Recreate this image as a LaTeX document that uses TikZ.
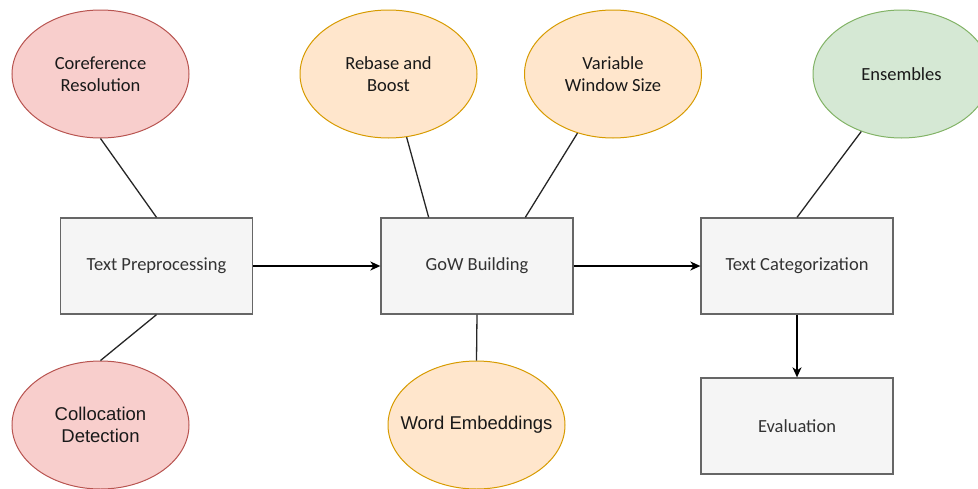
\documentclass[tikz,border=0pt]{standalone}
\usepackage{fontspec}
\setmainfont{Carlito}
\newfontfamily\helv{Liberation Sans}
\usetikzlibrary{shapes.geometric,arrows.meta,calc}
\definecolor{redfill}{HTML}{F8CECC}
\definecolor{redline}{HTML}{B85450}
\definecolor{orfill}{HTML}{FFE6CC}
\definecolor{orline}{HTML}{D79B00}
\definecolor{grfill}{HTML}{D5E8D4}
\definecolor{grline}{HTML}{82B366}
\definecolor{boxfill}{HTML}{F5F5F5}
\definecolor{boxline}{HTML}{666666}
\definecolor{boxtext}{HTML}{333333}
\begin{document}
\begin{tikzpicture}[x=1pt,y=-1pt,
  oval/.style={ellipse, minimum width=177pt, minimum height=128pt, inner sep=0pt, line width=1pt, align=center, font=\fontsize{18.5}{22}\selectfont, text=black!90},
  redoval/.style={oval, fill=redfill, draw=redline},
  oroval/.style={oval, fill=orfill, draw=orline},
  groval/.style={oval, fill=grfill, draw=grline},
  helvtext/.style={font=\helv\fontsize{18.5}{22}\selectfont},
  procbox/.style={rectangle, minimum width=192pt, minimum height=96pt, inner sep=0pt, fill=boxfill, draw=boxline, line width=1.3pt, text=boxtext, font=\fontsize{18.5}{22}\selectfont},
  link/.style={line width=1.3pt, draw=black!85},
  flow/.style={line width=1.5pt, draw=black, -{Stealth[length=10pt,width=9pt,inset=3pt]}}
]
\useasboundingbox (0,0) rectangle (978,488);
\begin{scope}
\clip (0,0) rectangle (978,488);
\node[redoval] (coref) at (100.5,74) {Coreference\\Resolution};
\node[redoval, helvtext] (colloc) at (100.5,425) {Collocation\\Detection};
\node[oroval] (rebase) at (388.5,74) {Rebase and\\Boost};
\node[oroval] (varwin) at (613,74) {Variable\\Window Size};
\node[oroval, helvtext] (wordemb) at (476.5,425) {\makebox[0pt][c]{Word Embeddings}};
\node[groval] (ens) at (901.5,74) {Ensembles};

\node[procbox] (tp) at (156.5,266) {Text Preprocessing};
\node[procbox] (gow) at (477,266) {GoW Building};
\node[procbox] (tc) at (797,266) {Text Categorization};
\node[procbox] (ev) at (797,426) {Evaluation};

\draw[link] (tp.north) -- (coref.south);
\draw[link] (tp.south) -- (colloc.north);
\draw[link] ($(gow.north west)!0.25!(gow.north east)$) -- (rebase.-74.5);
\draw[link] ($(gow.north west)!0.75!(gow.north east)$) -- (varwin.-121.4);
\draw[link] (gow.south) -- (wordemb.north);
\draw[link] (tc.north) -- (ens.-125.6);

\draw[flow] (tp.east) -- (gow.west);
\draw[flow] (gow.east) -- (tc.west);
\draw[flow] (tc.south) -- (ev.north);
\end{scope}
\end{tikzpicture}
\end{document}
